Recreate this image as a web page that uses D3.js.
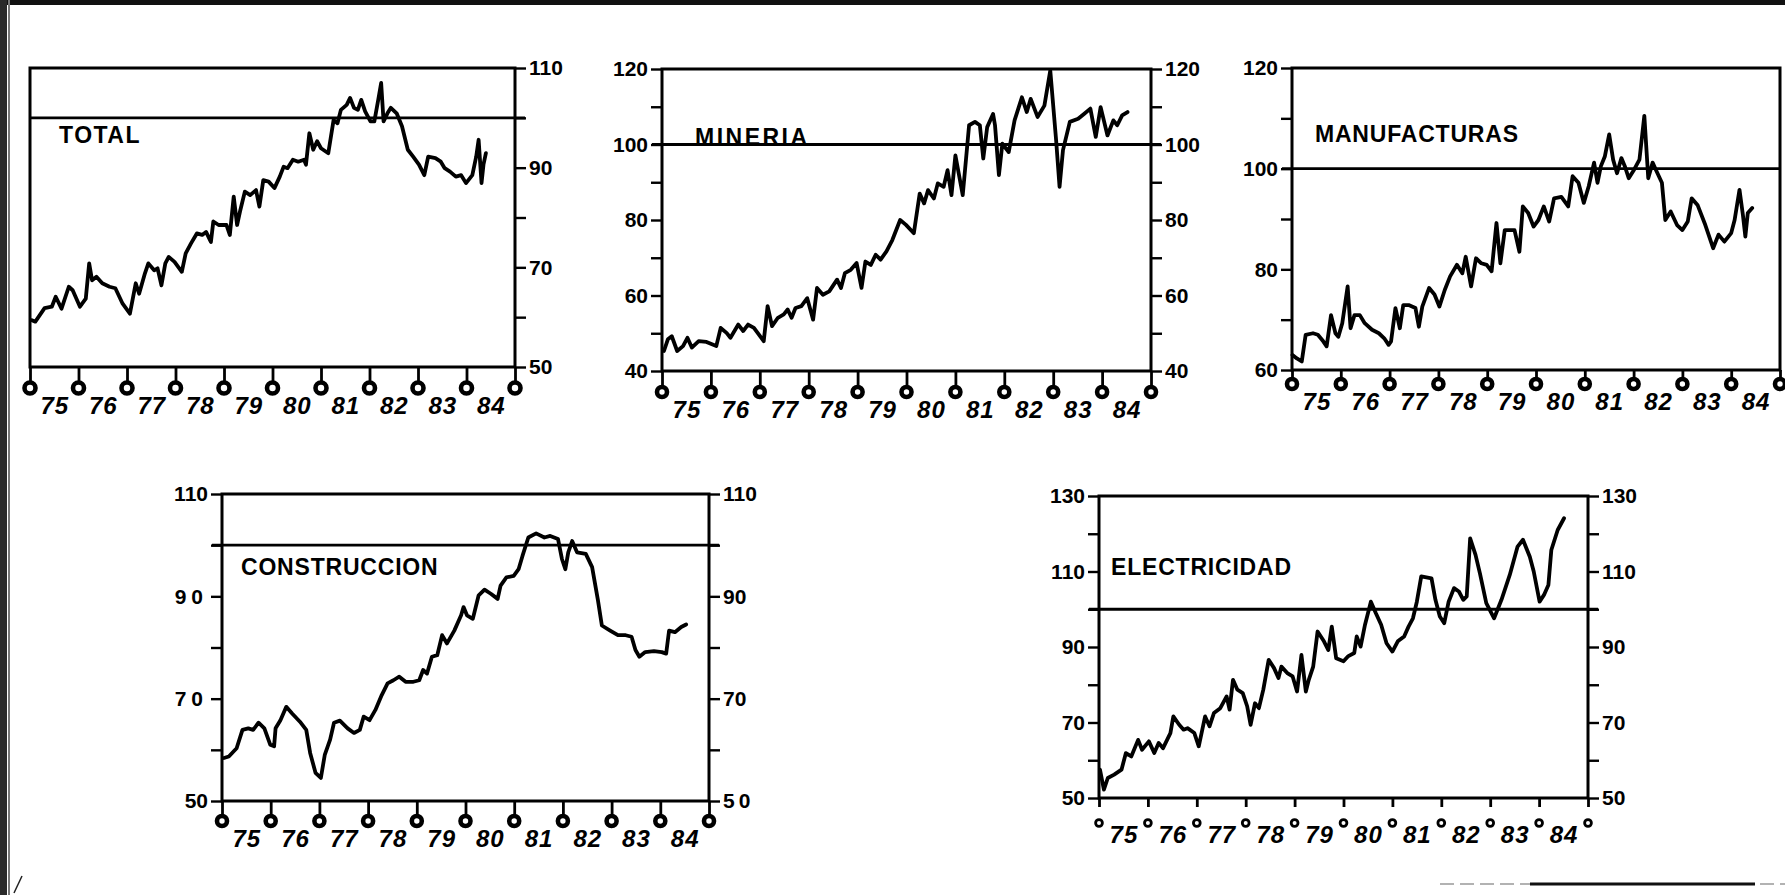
<!DOCTYPE html>
<html><head><meta charset="utf-8">
<script src="https://cdn.jsdelivr.net/npm/d3@7"></script>
<style>body{margin:0;background:#fff}svg{display:block}</style>
</head><body>
<svg id="c" width="1785" height="895"></svg>
<script>
// ---------- DATA ----------
const categories = ["TOTAL", "MINERIA", "MANUFACTURAS", "CONSTRUCCION", "ELECTRICIDAD"];
const yearTicks = [1975,1976,1977,1978,1979,1980,1981,1982,1983,1984,1985];
const yearLabels = ["75","76","77","78","79","80","81","82","83","84"];
const refValue = 100;

// [decimal year, index value]
const totalData = [
[1975.04,59.4],[1975.11,59.1],[1975.3,61.8],[1975.45,62.1],[1975.53,64.1],[1975.65,61.7],[1975.8,66.1],[1975.88,65.4],
[1976.03,62.1],[1976.15,63.7],[1976.22,70.8],[1976.28,67.4],[1976.37,68.1],[1976.49,66.8],[1976.64,66.1],[1976.76,65.8],[1976.91,62.7],
[1977.06,60.7],[1977.18,66.8],[1977.25,64.7],[1977.37,68.8],[1977.44,70.8],[1977.56,69.4],[1977.63,69.8],[1977.71,66.4],[1977.79,70.8],[1977.86,72.1],[1977.98,71.1],
[1978.13,69.1],[1978.21,72.8],[1978.32,74.8],[1978.44,76.8],[1978.55,76.5],[1978.63,77.1],[1978.73,75.1],[1978.78,79.2],[1978.89,78.5],
[1979.05,78.5],[1979.12,76.5],[1979.2,84.2],[1979.27,78.5],[1979.33,81.2],[1979.43,85.2],[1979.54,84.5],[1979.66,85.5],[1979.73,82.2],[1979.81,87.5],[1979.92,87.2],
[1980.04,85.9],[1980.15,88.2],[1980.23,90.2],[1980.31,89.9],[1980.42,91.6],[1980.53,91.2],[1980.65,91.6],[1980.69,90.6],[1980.76,96.9],[1980.84,93.6],[1980.92,95.3],
[1981.0,93.9],[1981.15,92.9],[1981.26,99.6],[1981.34,98.9],[1981.41,101.6],[1981.53,102.6],[1981.6,104.0],[1981.68,102.0],[1981.76,101.6],[1981.83,103.6],[1981.91,101.3],
[1982.02,99.3],[1982.1,99.3],[1982.18,103.6],[1982.24,107.0],[1982.29,99.3],[1982.37,100.9],[1982.44,102.0],[1982.56,100.9],[1982.67,98.3],[1982.79,93.6],[1982.9,92.2],
[1983.02,90.6],[1983.13,88.5],[1983.21,92.2],[1983.36,91.9],[1983.47,91.2],[1983.55,89.9],[1983.66,89.2],[1983.78,88.2],[1983.89,88.5],[1983.99,86.9],
[1984.12,88.5],[1984.2,92.2],[1984.25,95.6],[1984.31,86.9],[1984.35,90.6],[1984.4,92.9]
];
const mineriaData = [
[1975.04,45.3],[1975.12,48.4],[1975.2,49.2],[1975.31,45.3],[1975.43,46.6],[1975.52,48.8],[1975.61,46.2],[1975.75,47.9],[1975.91,47.7],
[1976.11,46.6],[1976.2,51.4],[1976.32,50.1],[1976.4,48.8],[1976.56,52.3],[1976.66,50.6],[1976.76,52.3],[1976.88,51.4],
[1977.08,47.9],[1977.16,57.2],[1977.25,51.9],[1977.37,54.1],[1977.49,55.0],[1977.57,56.3],[1977.65,54.1],[1977.73,56.7],[1977.85,57.2],[1977.97,59.3],
[1978.09,53.6],[1978.17,62.0],[1978.29,60.2],[1978.42,61.1],[1978.58,64.2],[1978.66,62.0],[1978.74,65.9],[1978.86,66.8],[1978.98,68.6],
[1979.08,62.0],[1979.16,69.0],[1979.27,68.1],[1979.37,70.8],[1979.47,69.5],[1979.59,71.7],[1979.71,74.7],[1979.87,80.0],[1979.99,78.7],
[1980.15,76.5],[1980.27,87.0],[1980.36,84.4],[1980.44,87.9],[1980.56,85.7],[1980.64,89.7],[1980.76,88.8],[1980.84,93.2],[1980.92,86.6],
[1981.0,97.1],[1981.15,86.6],[1981.28,105.1],[1981.4,106.0],[1981.5,105.1],[1981.57,96.3],[1981.65,104.6],[1981.77,108.1],[1981.81,105.1],[1981.89,91.9],[1981.96,100.2],
[1982.09,98.0],[1982.21,106.4],[1982.36,112.5],[1982.46,108.6],[1982.54,112.1],[1982.68,107.3],[1982.82,110.3],[1982.94,119.6],
[1983.06,101.1],[1983.13,88.8],[1983.2,98.5],[1983.34,106.0],[1983.51,106.8],[1983.63,108.1],[1983.76,109.5],[1983.87,102.0],[1983.97,109.9],
[1984.11,102.4],[1984.23,106.4],[1984.31,105.1],[1984.41,107.7],[1984.52,108.6]
];
const manufData = [
[1975.01,63.0],[1975.1,62.3],[1975.2,61.7],[1975.28,67.0],[1975.43,67.3],[1975.53,67.0],[1975.64,65.7],[1975.71,64.7],[1975.8,70.9],[1975.89,67.3],[1975.95,66.6],
[1976.03,69.3],[1976.14,76.6],[1976.2,68.3],[1976.28,70.9],[1976.39,70.9],[1976.49,69.3],[1976.64,68.0],[1976.78,67.3],[1976.89,66.3],[1976.98,65.0],
[1977.03,65.7],[1977.12,72.3],[1977.21,68.3],[1977.28,72.9],[1977.39,72.9],[1977.53,72.3],[1977.6,68.6],[1977.67,72.6],[1977.81,76.3],[1977.92,75.0],
[1978.02,72.6],[1978.13,75.9],[1978.24,78.6],[1978.38,80.9],[1978.49,79.2],[1978.56,82.5],[1978.67,76.6],[1978.77,82.2],[1978.88,81.2],[1978.99,80.9],
[1979.09,79.6],[1979.19,89.2],[1979.27,81.2],[1979.36,87.8],[1979.56,87.8],[1979.66,83.5],[1979.73,92.5],[1979.84,91.2],[1979.95,88.5],
[1980.05,89.8],[1980.16,92.5],[1980.27,89.5],[1980.37,94.1],[1980.52,94.4],[1980.66,92.5],[1980.75,98.5],[1980.87,97.2],[1980.98,93.2],
[1981.08,96.5],[1981.19,101.2],[1981.26,97.2],[1981.33,100.5],[1981.41,102.4],[1981.5,106.8],[1981.58,101.8],[1981.66,99.1],[1981.75,102.1],[1981.82,100.5],[1981.9,98.1],
[1982.01,99.8],[1982.12,101.8],[1982.22,110.5],[1982.3,98.1],[1982.39,101.2],[1982.47,99.5],[1982.58,97.2],[1982.65,89.8],[1982.76,91.5],[1982.89,88.8],
[1983.0,87.8],[1983.11,89.5],[1983.19,94.1],[1983.31,92.8],[1983.47,88.8],[1983.63,84.2],[1983.74,86.9],[1983.86,85.5],
[1984.0,87.2],[1984.07,89.8],[1984.17,95.8],[1984.24,90.8],[1984.29,86.5],[1984.34,91.2],[1984.43,92.2]
];
const construData = [
[1975.04,58.4],[1975.14,58.7],[1975.3,60.3],[1975.42,63.9],[1975.54,64.2],[1975.64,63.9],[1975.75,65.3],[1975.87,64.2],[1975.99,61.0],[1976.07,60.7],
[1976.1,64.2],[1976.2,65.8],[1976.32,68.4],[1976.44,67.1],[1976.6,65.5],[1976.73,63.9],[1976.81,59.4],[1976.92,55.5],
[1977.03,54.5],[1977.11,59.0],[1977.22,62.0],[1977.3,65.3],[1977.42,65.7],[1977.58,64.2],[1977.71,63.3],[1977.83,63.9],[1977.91,66.5],
[1978.03,65.8],[1978.15,67.8],[1978.28,70.7],[1978.4,73.0],[1978.52,73.6],[1978.64,74.3],[1978.77,73.3],[1978.93,73.3],
[1979.05,73.6],[1979.13,75.6],[1979.21,74.9],[1979.31,78.2],[1979.42,78.5],[1979.52,82.4],[1979.62,80.8],[1979.77,83.3],[1979.91,86.3],[1979.96,87.9],
[1980.03,86.3],[1980.15,85.6],[1980.27,90.2],[1980.39,91.3],[1980.52,90.5],[1980.66,89.5],[1980.72,92.1],[1980.84,93.7],[1980.99,94.0],
[1981.09,95.3],[1981.17,97.9],[1981.29,101.5],[1981.45,102.3],[1981.62,101.5],[1981.74,101.8],[1981.9,101.2],[1981.98,97.3],
[1982.05,95.3],[1982.11,98.6],[1982.19,100.8],[1982.29,98.6],[1982.47,98.3],[1982.6,95.7],[1982.72,89.2],[1982.8,84.3],[1982.97,83.3],
[1983.13,82.4],[1983.29,82.4],[1983.41,82.1],[1983.49,79.5],[1983.57,78.2],[1983.69,79.1],[1983.87,79.3],
[1984.03,79.1],[1984.12,78.8],[1984.18,83.3],[1984.3,83.0],[1984.43,84.0],[1984.53,84.5]
];
const electData = [
[1975.02,57.5],[1975.1,52.2],[1975.18,55.3],[1975.31,56.2],[1975.46,57.5],[1975.55,61.9],[1975.66,61.0],[1975.8,65.4],[1975.88,62.8],
[1976.02,65.0],[1976.13,61.9],[1976.22,64.6],[1976.31,63.2],[1976.46,67.2],[1976.52,71.6],[1976.64,69.4],[1976.73,68.1],[1976.81,68.5],[1976.95,67.2],
[1977.04,63.7],[1977.17,71.6],[1977.26,69.0],[1977.35,72.5],[1977.48,73.8],[1977.61,76.9],[1977.67,73.4],[1977.74,81.3],[1977.83,78.7],[1977.94,77.8],[1978.03,74.3],
[1978.1,69.4],[1978.19,75.1],[1978.27,73.8],[1978.36,78.7],[1978.47,86.6],[1978.58,84.4],[1978.67,81.8],[1978.73,84.8],[1978.85,83.1],[1978.96,82.2],
[1979.05,78.2],[1979.14,87.9],[1979.23,78.2],[1979.29,81.3],[1979.38,84.8],[1979.47,94.1],[1979.6,91.5],[1979.69,89.2],[1979.76,95.4],[1979.85,87.0],
[1980.0,86.2],[1980.09,87.5],[1980.22,88.4],[1980.27,92.8],[1980.35,90.1],[1980.44,95.9],[1980.56,102.0],[1980.66,99.0],[1980.77,95.9],[1980.88,91.0],
[1981.0,88.8],[1981.11,91.5],[1981.24,92.8],[1981.33,95.4],[1981.42,97.6],[1981.5,102.0],[1981.59,108.7],[1981.8,108.2],[1981.88,102.5],[1981.97,98.1],
[1982.06,96.3],[1982.15,102.0],[1982.26,105.6],[1982.36,104.7],[1982.45,102.5],[1982.52,103.4],[1982.59,118.8],[1982.7,114.4],[1982.79,109.5],[1982.92,101.6],
[1983.08,97.6],[1983.23,102.5],[1983.4,109.1],[1983.56,116.6],[1983.67,118.4],[1983.81,113.9],[1983.89,110.0],
[1984.01,102.0],[1984.1,103.8],[1984.19,106.4],[1984.25,115.7],[1984.38,121.0],[1984.51,124.1]
];

const ticksTotal = [50,60,70,80,90,100,110], labelsTotal = [110,90,70,50];
const ticksMin = [40,50,60,70,80,90,100,110,120], labelsMin = [120,100,80,60,40];
const ticksMan = [60,70,80,90,100,110,120], labelsMan = [120,100,80,60];
const ticksCon = [50,60,70,80,90,100,110], labelsCon = [110,90,70,50];
const ticksEle = [50,60,70,80,90,100,110,120,130], labelsEle = [130,110,90,70,50];

// ---------- LAYOUT (positions / styles only) ----------
const panels = [
 {name:categories[0], data:totalData, dom:[50,110], ticks:ticksTotal, labs:labelsTotal,
  x0:30, x1:515, y0:68, y1:367, left:false, right:true, rightTicks:true, tx:59, ty:143, ls:1.5,
  dotOff:21, dotR:5.5, labOff:47},
 {name:categories[1], data:mineriaData, dom:[40,120], ticks:ticksMin, labs:labelsMin,
  x0:662, x1:1151, y0:69, y1:371, left:true, right:true, rightTicks:true, tx:695, ty:145, ls:2.5,
  dotOff:21, dotR:5, labOff:47},
 {name:categories[2], data:manufData, dom:[60,120], ticks:ticksMan, labs:labelsMan,
  x0:1292, x1:1780, y0:68, y1:370, left:true, right:false, rightTicks:false, tx:1315, ty:142, ls:0.8,
  dotOff:14, dotR:5, labOff:40},
 {name:categories[3], data:construData, dom:[50,110], ticks:ticksCon, labs:labelsCon,
  x0:222, x1:709, y0:494, y1:801, left:true, right:true, rightTicks:true, tx:241, ty:575, ls:0.8,
  dotOff:20, dotR:5, labOff:46, leftSpaced:[90,70], rightSpaced:[50]},
 {name:categories[4], data:electData, dom:[50,130], ticks:ticksEle, labs:labelsEle,
  x0:1099, x1:1588, y0:496, y1:798, left:true, right:true, rightTicks:true, tx:1111, ty:575, ls:0.8,
  dotOff:25, dotR:3.4, labOff:45, shortTick:9}
];

const svg = d3.select("#c");
const FONT = "'Liberation Sans', Arial, Helvetica, sans-serif";

// scan borders / artefacts
svg.append("rect").attr("x",0).attr("y",0).attr("width",1785).attr("height",5).attr("fill","#111");
svg.append("rect").attr("x",0).attr("y",0).attr("width",7).attr("height",895).attr("fill","#2a2a2a");
svg.append("rect").attr("x",8).attr("y",0).attr("width",2).attr("height",895).attr("fill","#777");
svg.append("line").attr("x1",1440).attr("x2",1785).attr("y1",884).attr("y2",884).attr("stroke","#999").attr("stroke-width",1.5).attr("stroke-dasharray","14 6");
svg.append("line").attr("x1",1530).attr("x2",1755).attr("y1",884).attr("y2",884).attr("stroke","#111").attr("stroke-width",3);
svg.append("line").attr("x1",14).attr("x2",22).attr("y1",893).attr("y2",876).attr("stroke","#222").attr("stroke-width",1.5);

panels.forEach(p => {
  const x = d3.scaleLinear().domain([1975,1985]).range([p.x0,p.x1]);
  const y = d3.scaleLinear().domain(p.dom).range([p.y1,p.y0]);
  const g = svg.append("g");
  const fmt = v => p.labs.includes(v) ? String(v) : "";

  if (p.left) {
    const ax = g.append("g").attr("transform",`translate(${p.x0},0)`)
      .call(d3.axisLeft(y).tickValues(p.ticks).tickSize(11).tickPadding(3).tickFormat(fmt));
    ax.select(".domain").remove();
    ax.selectAll("line").attr("stroke","#000").attr("stroke-width",2.4);
    ax.selectAll("text").attr("font-family",FONT).attr("font-size",21).attr("font-weight","bold")
      .attr("letter-spacing", d => (p.leftSpaced && p.leftSpaced.includes(d)) ? 5 : 0).attr("fill","#000");
  }
  if (p.rightTicks) {
    const ax = g.append("g").attr("transform",`translate(${p.x1},0)`)
      .call(d3.axisRight(y).tickValues(p.ticks).tickSize(11).tickPadding(3).tickFormat(p.right ? fmt : () => ""));
    ax.select(".domain").remove();
    ax.selectAll("line").attr("stroke","#000").attr("stroke-width",2.4);
    ax.selectAll("text").attr("font-family",FONT).attr("font-size",21).attr("font-weight","bold")
      .attr("letter-spacing", d => (p.rightSpaced && p.rightSpaced.includes(d)) ? 4 : 0).attr("fill","#000");
  }

  // frame
  g.append("rect").attr("x",p.x0).attr("y",p.y0).attr("width",p.x1-p.x0).attr("height",p.y1-p.y0)
    .attr("fill","none").attr("stroke","#000").attr("stroke-width",3);

  // reference line at 100
  g.append("line").attr("x1",p.x0-(p.left?10:0)).attr("x2",p.x1+(p.rightTicks?10:0))
    .attr("y1",y(refValue)).attr("y2",y(refValue)).attr("stroke","#000").attr("stroke-width",2.8);

  // x axis: year ticks with dots
  const xa = g.append("g").attr("transform",`translate(0,${p.y1})`)
    .call(d3.axisBottom(x).tickValues(yearTicks).tickSize(p.shortTick || p.dotOff).tickFormat(""));
  xa.select(".domain").remove();
  xa.selectAll("line").attr("stroke","#000").attr("stroke-width",2.8);
  g.selectAll(null).data(yearTicks).join("circle")
    .attr("cx",d=>x(d)).attr("cy",p.y1+p.dotOff).attr("r",p.dotR)
    .attr("fill","#fff").attr("stroke","#000").attr("stroke-width",p.dotR>4?4.6:2.8);

  // year labels centred in each year
  const mids = yearLabels.map((_,i)=>yearTicks[i]+0.5);
  const xl = g.append("g").attr("transform",`translate(0,${p.y1+p.labOff})`)
    .call(d3.axisBottom(x).tickValues(mids).tickSize(0).tickPadding(0).tickFormat((d,i)=>yearLabels[i]));
  xl.select(".domain").remove();
  xl.selectAll("text").attr("dy",0).attr("font-family",FONT).attr("font-size",24)
    .attr("font-weight","bold").attr("font-style","italic").attr("letter-spacing",1).attr("fill","#000");

  // series
  const line = d3.line().x(d=>x(d[0])).y(d=>y(d[1]));
  g.append("path").datum(p.data).attr("d",line).attr("fill","none").attr("stroke","#000")
    .attr("stroke-width",3.8).attr("stroke-linejoin","round").attr("stroke-linecap","round");

  // title
  g.append("text").attr("x",p.tx).attr("y",p.ty).text(p.name)
    .attr("font-family",FONT).attr("font-size",23).attr("font-weight","bold")
    .attr("letter-spacing",p.ls).attr("fill","#000");
});
</script>
</body></html>
